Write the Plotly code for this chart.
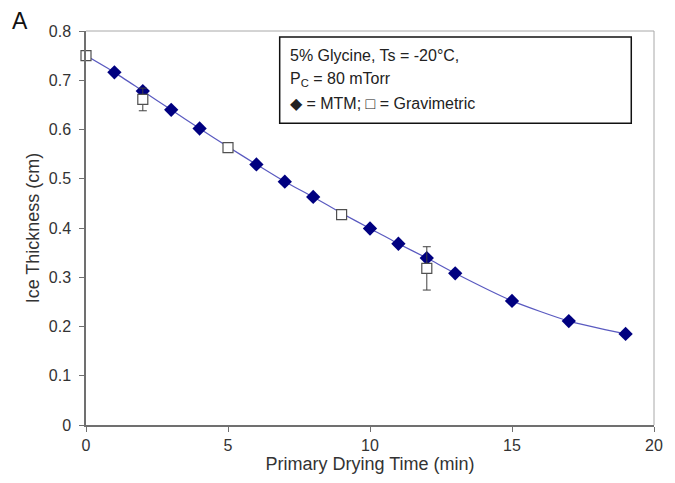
import plotly.graph_objects as go

# MTM data (diamonds)
mtm_time = [0, 1, 2, 3, 4, 5, 6, 7, 8, 9, 10, 11, 12, 13, 15, 17, 19]
mtm_ice = [0.750, 0.716, 0.678, 0.640, 0.602, 0.565, 0.529, 0.494, 0.463, 0.430,
           0.399, 0.368, 0.339, 0.308, 0.252, 0.211, 0.185]

# Gravimetric data (squares)
grav_time = [0, 2, 5, 9, 12]
grav_ice = [0.750, 0.661, 0.563, 0.427, 0.318]
grav_err = [0.0, 0.023, 0.008, 0.005, 0.044]

x_ticks = [0, 5, 10, 15, 20]
y_ticks = [0, 0.1, 0.2, 0.3, 0.4, 0.5, 0.6, 0.7, 0.8]
y_labels = ["0", "0.1", "0.2", "0.3", "0.4", "0.5", "0.6", "0.7", "0.8"]

# diamonds that are not hidden behind a gravimetric square
mk_x = [t for t in mtm_time if t not in (0, 5, 9)]
mk_y = [v for t, v in zip(mtm_time, mtm_ice) if t not in (0, 5, 9)]

fig = go.Figure()

fig.add_trace(go.Scatter(
    x=mtm_time, y=mtm_ice, mode="lines",
    line=dict(color="#5a5ac0", width=1.2, shape="spline", smoothing=0.6),
    hoverinfo="skip", showlegend=False, cliponaxis=False))

fig.add_trace(go.Scatter(
    x=mk_x, y=mk_y, mode="markers",
    marker=dict(symbol="diamond", size=11, color="#000080",
                line=dict(width=0)),
    showlegend=False, cliponaxis=False))

fig.add_trace(go.Scatter(
    x=grav_time, y=grav_ice, mode="markers",
    marker=dict(symbol="square", size=10, color="white",
                line=dict(width=1.2, color="#505050")),
    error_y=dict(type="data", array=grav_err, visible=True,
                 color="#404040", thickness=1, width=4),
    showlegend=False, cliponaxis=False))

fig.update_layout(
    width=675, height=483,
    margin=dict(l=86, r=12, t=31, b=58),
    paper_bgcolor="white", plot_bgcolor="white",
    font=dict(family="Liberation Sans, Arial, sans-serif", size=16, color="#333333"),
    xaxis=dict(range=[0, 20], tickvals=x_ticks, ticks="outside", ticklen=5,
               tickcolor="#707070", showline=True, linecolor="#707070", linewidth=1.5,
               showgrid=False, zeroline=False,
               title=dict(text="Primary Drying Time (min)", font=dict(size=18), standoff=3),
               tickfont=dict(size=16)),
    yaxis=dict(range=[0, 0.8], tickvals=y_ticks, ticktext=y_labels, ticks="outside",
               ticklen=5, tickcolor="#707070", showline=True, linecolor="#707070",
               linewidth=1.5, showgrid=False, zeroline=False, ticklabelstandoff=5,
               title=dict(text="Ice Thickness (cm)", font=dict(size=18), standoff=4),
               tickfont=dict(size=16)),
)

# top and right frame lines
fig.add_shape(type="line", xref="paper", yref="paper", x0=0, x1=1, y0=1, y1=1,
              line=dict(color="#a8a8a8", width=1), layer="below")
fig.add_shape(type="line", xref="paper", yref="paper", x0=1, x1=1, y0=0, y1=1,
              line=dict(color="#a8a8a8", width=1), layer="below")

# info box
fig.add_shape(type="rect", xref="paper", yref="paper", x0=0.341, x1=0.960,
              y0=0.766, y1=0.985, line=dict(color="#111111", width=1.5),
              fillcolor="white")
lines = ["5% Glycine, Ts = -20°C,",
         "P<sub>C</sub> = 80 mTorr",
         "◆ = MTM; □ = Gravimetric"]
ys = [0.939, 0.878, 0.817]
for t, yy in zip(lines, ys):
    fig.add_annotation(text=t, xref="paper", yref="paper", x=0.355, y=yy,
                       xanchor="left", yanchor="middle", showarrow=False,
                       font=dict(size=16, color="#222222"))

fig.add_annotation(text="A", xref="paper", yref="paper", x=-0.133, y=1.025,
                   xanchor="left", yanchor="middle", showarrow=False,
                   font=dict(size=23, color="#111111"))

fig.write_html("out.html")
